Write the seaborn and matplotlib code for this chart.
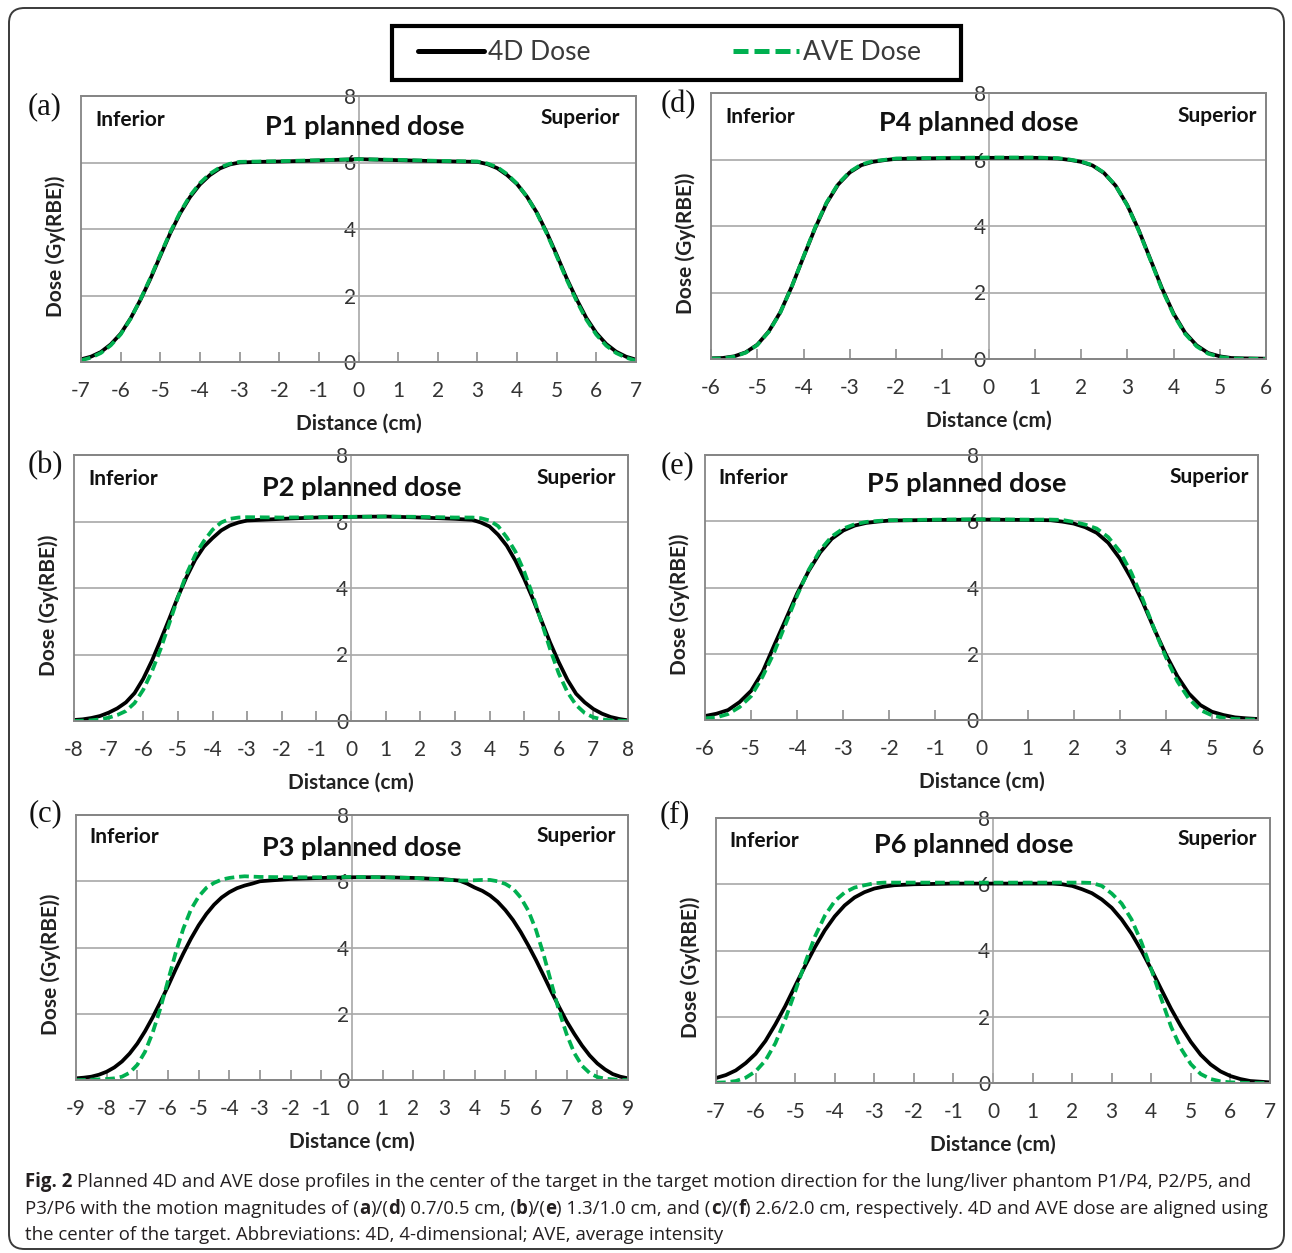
import matplotlib
matplotlib.use("Agg")
import matplotlib.pyplot as plt
import seaborn as sns
from matplotlib.patches import Rectangle, FancyBboxPatch
from matplotlib.lines import Line2D
from matplotlib import font_manager

# ---------------- data ----------------
p1_x = [-7, -6.75, -6.5, -6.25, -6, -5.75, -5.5, -5.25, -5, -4.75, -4.5, -4.25, -4, -3.75, -3.5, -3.25, -3, -2.5, -2, -1,
        0, 1, 2, 2.5, 3, 3.25, 3.5, 3.75, 4, 4.25, 4.5, 4.75, 5, 5.25, 5.5, 5.75, 6, 6.25, 6.5, 6.75, 7]
p1_4d = [0.08, 0.16, 0.3, 0.53, 0.85, 1.31, 1.87, 2.5, 3.19, 3.87, 4.47, 4.96, 5.34, 5.62, 5.82, 5.94, 6.0, 6.02, 6.03, 6.06,
         6.1, 6.07, 6.04, 6.03, 6.02, 5.95, 5.83, 5.62, 5.35, 4.97, 4.49, 3.89, 3.22, 2.52, 1.89, 1.32, 0.87, 0.54, 0.31, 0.16, 0.07]
p1_ave = [0.05, 0.13, 0.27, 0.5, 0.83, 1.3, 1.88, 2.53, 3.22, 3.9, 4.5, 5.0, 5.38, 5.66, 5.85, 5.96, 6.02, 6.03, 6.04, 6.07,
          6.1, 6.08, 6.05, 6.04, 6.03, 5.97, 5.86, 5.65, 5.36, 4.97, 4.47, 3.86, 3.18, 2.48, 1.84, 1.27, 0.82, 0.49, 0.27, 0.13, 0.04]

p2_x = [-8, -7.75, -7.5, -7.25, -7, -6.75, -6.5, -6.25, -6, -5.75, -5.5, -5.25, -5, -4.75, -4.5, -4.25, -4, -3.75, -3.5, -3.25,
        -3, -2, -1, 0, 1, 2, 3, 3.5, 3.75, 4, 4.25, 4.5, 4.75, 5, 5.25, 5.5, 5.75, 6, 6.25, 6.5, 6.75, 7, 7.25, 7.5, 7.75, 8]
p2_4d = [0.03, 0.05, 0.09, 0.15, 0.25, 0.38, 0.56, 0.84, 1.27, 1.81, 2.43, 3.07, 3.73, 4.33, 4.85, 5.24, 5.5, 5.73, 5.88, 5.97,
         6.03, 6.08, 6.12, 6.14, 6.15, 6.12, 6.08, 6.05, 5.97, 5.85, 5.6, 5.27, 4.82, 4.28, 3.68, 3.02, 2.36, 1.77, 1.24, 0.82,
         0.56, 0.36, 0.22, 0.12, 0.06, 0.02]
p2_ave = [0.0, 0.01, 0.02, 0.05, 0.1, 0.18, 0.3, 0.54, 0.94, 1.49, 2.16, 2.93, 3.71, 4.42, 4.99, 5.41, 5.75, 5.97, 6.08, 6.12,
          6.13, 6.12, 6.13, 6.14, 6.15, 6.14, 6.12, 6.12, 6.1, 6.03, 5.86, 5.52, 5.09, 4.5, 3.78, 2.98, 2.16, 1.43, 0.87, 0.48,
          0.24, 0.11, 0.05, 0.02, 0.01, 0.0]

p3_x = [-9, -8.75, -8.5, -8.25, -8, -7.75, -7.5, -7.25, -7, -6.75, -6.5, -6.25, -6, -5.75, -5.5, -5.25, -5, -4.75, -4.5, -4.25,
        -4, -3.75, -3.5, -3.25, -3, -2, -1, 0, 1, 2, 3, 3.5, 3.75, 4, 4.25, 4.5, 4.75, 5, 5.25, 5.5,
        5.75, 6, 6.25, 6.5, 6.75, 7, 7.25, 7.5, 7.75, 8, 8.25, 8.5, 8.75, 9]
p3_4d = [0.05, 0.07, 0.1, 0.16, 0.25, 0.38, 0.56, 0.8, 1.1, 1.47, 1.89, 2.35, 2.83, 3.34, 3.82, 4.27, 4.67, 5.01, 5.29, 5.51,
         5.67, 5.79, 5.87, 5.93, 6.0, 6.07, 6.1, 6.12, 6.12, 6.1, 6.06, 6.02, 5.93, 5.81, 5.71, 5.57, 5.38, 5.13, 4.83, 4.47,
         4.06, 3.62, 3.15, 2.67, 2.21, 1.77, 1.39, 1.04, 0.74, 0.5, 0.32, 0.18, 0.1, 0.05]
p3_ave = [0.0, 0.0, 0.01, 0.02, 0.03, 0.05, 0.1, 0.22, 0.46, 0.85, 1.43, 2.16, 3.0, 3.84, 4.57, 5.15, 5.54, 5.8, 5.95, 6.05,
          6.1, 6.13, 6.15, 6.14, 6.13, 6.12, 6.12, 6.13, 6.12, 6.1, 6.05, 6.02, 6.02, 6.03, 6.04, 6.04, 6.0, 5.92, 5.78, 5.51,
          5.11, 4.53, 3.78, 2.93, 2.09, 1.38, 0.81, 0.43, 0.21, 0.09, 0.04, 0.02, 0.0, 0.0]

p4_x = [-6, -5.75, -5.5, -5.25, -5, -4.75, -4.5, -4.25, -4, -3.75, -3.5, -3.25, -3, -2.75, -2.5, -2.25, -2, -1, 0, 1,
        1.5, 1.75, 2, 2.25, 2.5, 2.75, 3, 3.25, 3.5, 3.75, 4, 4.25, 4.5, 4.75, 5, 5.25, 5.5, 6]
p4_4d = [0.02, 0.03, 0.08, 0.2, 0.43, 0.83, 1.41, 2.19, 3.07, 3.93, 4.69, 5.25, 5.61, 5.83, 5.93, 5.98, 6.02, 6.04, 6.05, 6.05,
         6.03, 5.99, 5.93, 5.82, 5.59, 5.21, 4.63, 3.87, 3.0, 2.13, 1.37, 0.79, 0.41, 0.18, 0.08, 0.03, 0.02, 0.01]
p4_ave = [0.01, 0.02, 0.07, 0.19, 0.42, 0.82, 1.4, 2.19, 3.08, 3.95, 4.71, 5.27, 5.63, 5.85, 5.95, 5.99, 6.03, 6.05, 6.06, 6.06,
          6.04, 6.0, 5.94, 5.83, 5.6, 5.21, 4.62, 3.85, 2.98, 2.1, 1.34, 0.76, 0.38, 0.16, 0.06, 0.02, 0.01, 0.0]

p5_x = [-6, -5.75, -5.5, -5.25, -5, -4.75, -4.5, -4.25, -4, -3.75, -3.5, -3.25, -3, -2.75, -2.5, -2.25, -2, -1, 0, 1,
        1.5, 1.75, 2, 2.25, 2.5, 2.75, 3, 3.25, 3.5, 3.75, 4, 4.25, 4.5, 4.75, 5, 5.25, 5.5, 5.75, 6]
p5_4d = [0.12, 0.19, 0.3, 0.54, 0.88, 1.45, 2.25, 3.03, 3.82, 4.5, 5.06, 5.47, 5.72, 5.87, 5.95, 5.99, 6.02, 6.04, 6.05, 6.04,
         6.03, 5.99, 5.93, 5.82, 5.65, 5.35, 4.88, 4.27, 3.55, 2.74, 1.98, 1.32, 0.8, 0.45, 0.25, 0.15, 0.08, 0.05, 0.03]
p5_ave = [0.05, 0.08, 0.18, 0.39, 0.72, 1.31, 2.04, 2.9, 3.76, 4.53, 5.13, 5.54, 5.78, 5.91, 5.98, 6.01, 6.03, 6.05, 6.06, 6.05,
          6.05, 6.04, 5.98, 5.9, 5.78, 5.52, 5.09, 4.45, 3.64, 2.74, 1.9, 1.17, 0.64, 0.3, 0.14, 0.06, 0.03, 0.02, 0.01]

p6_x = [-7, -6.75, -6.5, -6.25, -6, -5.75, -5.5, -5.25, -5, -4.75, -4.5, -4.25, -4, -3.75, -3.5, -3.25, -3, -2.75, -2.5, -2,
        -1, 0, 1, 1.5, 1.75, 2, 2.25, 2.5, 2.75, 3, 3.25, 3.5, 3.75, 4, 4.25, 4.5, 4.75, 5, 5.25, 5.5,
        5.75, 6, 6.25, 6.5, 7]
p6_4d = [0.15, 0.24, 0.38, 0.6, 0.88, 1.27, 1.77, 2.32, 2.93, 3.53, 4.1, 4.61, 5.03, 5.36, 5.6, 5.76, 5.87, 5.93, 5.97, 6.0,
         6.02, 6.02, 6.02, 6.02, 6.0, 5.95, 5.85, 5.73, 5.54, 5.29, 4.94, 4.51, 4.0, 3.43, 2.83, 2.24, 1.71, 1.24, 0.85, 0.56,
         0.35, 0.21, 0.12, 0.06, 0.02]
p6_ave = [0.01, 0.02, 0.06, 0.16, 0.35, 0.68, 1.2, 1.92, 2.76, 3.62, 4.42, 5.05, 5.49, 5.75, 5.9, 5.97, 6.03, 6.05, 6.05, 6.05,
          6.05, 6.05, 6.05, 6.05, 6.05, 6.05, 6.05, 6.04, 5.95, 5.72, 5.42, 4.94, 4.25, 3.43, 2.55, 1.7, 1.04, 0.57, 0.27, 0.12,
          0.05, 0.02, 0.01, 0.0, 0.0]

panel_titles = ["P1 planned dose", "P2 planned dose", "P3 planned dose",
                "P4 planned dose", "P5 planned dose", "P6 planned dose"]
panel_letters = ["(a)", "(b)", "(c)", "(d)", "(e)", "(f)"]
x_ranges = [7, 8, 9, 6, 6, 7]
y_ticks = [0, 2, 4, 6, 8]
series_names = ["4D Dose", "AVE Dose"]

# ---------------- style ----------------
sns.set_theme(style="white")
plt.rcParams["font.family"] = ["Lato", "DejaVu Sans"]
plt.rcParams["axes.unicode_minus"] = False

W, H = 1292, 1253
fig = plt.figure(figsize=(W / 100, H / 100), dpi=100)
fig.patch.set_facecolor("white")

BLACK = "#000000"
GREEN = "#00b050"
FRAME = "#858585"
GRID = "#a8a8a8"
TXT = "#333333"

layouts = [
    dict(box=(81, 636, 96, 362), title=(0.512, 0.883), inf=(95, 120), sup=(620, 118), letter=(45, 107)),
    dict(box=(74, 628, 455, 721), title=(0.52, 0.876), inf=(88, 479), sup=(616, 478), letter=(45, 466)),
    dict(box=(76, 628, 815, 1080), title=(0.518, 0.875), inf=(89, 837), sup=(616, 836), letter=(45, 814)),
    dict(box=(711, 1266, 93, 359), title=(0.483, 0.887), inf=(725, 117), sup=(1257, 116), letter=(678, 105)),
    dict(box=(705, 1258, 455, 720), title=(0.474, 0.89), inf=(718, 478), sup=(1249, 477), letter=(677, 466)),
    dict(box=(716, 1270, 818, 1083), title=(0.466, 0.898), inf=(729, 841), sup=(1257, 839), letter=(675, 815)),
]
data = [(p1_x, p1_4d, p1_ave), (p2_x, p2_4d, p2_ave), (p3_x, p3_4d, p3_ave),
        (p4_x, p4_4d, p4_ave), (p5_x, p5_4d, p5_ave), (p6_x, p6_4d, p6_ave)]

LW = 2.7
DASH = (0, (2.6, 1.3))

for i in range(6):
    lay = layouts[i]
    l, r, t, b = lay["box"]
    ax = fig.add_axes([l / W, 1 - b / H, (r - l) / W, (b - t) / H])
    xs, y4d, yave = data[i]
    R = x_ranges[i]

    for yv in (2, 4, 6):
        ax.axhline(yv, color=GRID, lw=1.2, zorder=1)

    sns.lineplot(x=xs, y=y4d, ax=ax, color=BLACK, linewidth=LW, estimator=None, sort=False, zorder=4)
    sns.lineplot(x=xs, y=yave, ax=ax, color=GREEN, linewidth=LW, estimator=None, sort=False, zorder=5)
    ax.lines[-1].set_linestyle(DASH)

    ax.set_xlim(-R, R)
    ax.set_ylim(0, 8)
    ax.set_xticks(list(range(-R, R + 1)))
    ax.set_yticks(y_ticks)
    ax.set_xlabel("Distance (cm)", fontsize=15, fontweight="bold", color="#222222", labelpad=9)
    ax.set_ylabel("Dose (Gy(RBE))", fontsize=15, fontweight="bold", color="#222222")
    ax.yaxis.set_label_coords(-15 / (r - l), 0.5 - 17 / (b - t))

    for s in ("top", "right", "bottom"):
        ax.spines[s].set_color(FRAME)
        ax.spines[s].set_linewidth(1.3)
    ax.spines["left"].set_position(("data", 0))
    ax.spines["left"].set_color(GRID)
    ax.spines["left"].set_linewidth(1.2)
    ax.spines["left"].set_zorder(1)
    ax.add_patch(Rectangle((0, 0), 1, 1, transform=ax.transAxes, fill=False,
                           ec=FRAME, lw=1.3, clip_on=False, zorder=6))

    ax.tick_params(axis="x", direction="in", length=7, width=1.1, color=FRAME,
                   pad=14, labelsize=15, labelcolor=TXT, bottom=True, top=False)
    ax.tick_params(axis="y", length=0, pad=2, labelsize=15, labelcolor=TXT, left=True)

    ax.text(lay["title"][0], lay["title"][1], panel_titles[i], transform=ax.transAxes,
            ha="center", va="center", fontsize=19.5, fontweight="bold", color="#111111", zorder=7)
    ix, iy = lay["inf"]
    ax.text((ix - l) / (r - l), (b - iy) / (b - t), "Inferior", transform=ax.transAxes,
            ha="left", va="center", fontsize=15, fontweight="bold", color="#111111")
    sx, sy = lay["sup"]
    ax.text((sx - l) / (r - l), (b - sy) / (b - t), "Superior", transform=ax.transAxes,
            ha="right", va="center", fontsize=15, fontweight="bold", color="#111111")
    lx, ly = lay["letter"]
    fig.text(lx / W, 1 - ly / H, panel_letters[i], ha="center", va="center",
             fontsize=22, family=["Liberation Serif", "DejaVu Serif"], color="#111111")

# ---------------- legend ----------------
fig.patches.append(Rectangle((392 / W, 1 - 80 / H), 569 / W, 54 / H, transform=fig.transFigure,
                             fill=False, ec="black", lw=3))
h1 = Line2D([], [], color=BLACK, lw=3.6)
h2 = Line2D([], [], color=GREEN, lw=3.6, linestyle=(0, (3.0, 1.2)))
leg = fig.legend([h1, h2], series_names, loc="center left",
                 bbox_to_anchor=(418 / W, 1 - 52.5 / H), ncol=2, frameon=False, fontsize=19,
                 handlelength=2.5, handletextpad=0.15, columnspacing=5.4, borderpad=0, borderaxespad=0)
for t in leg.get_texts():
    t.set_color("#3a3a3a")

# ---------------- outer rounded border ----------------
fig.patches.append(FancyBboxPatch((9 / W, 4 / H), 1275 / W, 1241 / H,
                                  boxstyle="round,pad=0,rounding_size=0.012",
                                  transform=fig.transFigure, fill=False, ec="#3a3a3a", lw=1.4))

# ---------------- caption ----------------
cap_lines = [
    [("Fig. 2", True), (" Planned 4D and AVE dose profiles in the center of the target in the target motion direction for the lung/liver phantom P1/P4, P2/P5, and", False)],
    [("P3/P6 with the motion magnitudes of (", False), ("a", True), (")/(", False), ("d", True),
     (") 0.7/0.5 cm, (", False), ("b", True), (")/(", False), ("e", True), (") 1.3/1.0 cm, and (", False),
     ("c", True), (")/(", False), ("f", True), (") 2.6/2.0 cm, respectively. 4D and AVE dose are aligned using", False)],
    [("the center of the target. Abbreviations: 4D, 4-dimensional; AVE, average intensity", False)],
]

cap_family = ["Open Sans", "DejaVu Sans"]
for cand in ["Liberation Sans Narrow"]:
    try:
        font_manager.findfont(font_manager.FontProperties(family=cand), fallback_to_default=False)
        cap_family = [cand, "Open Sans", "DejaVu Sans"]
        break
    except Exception:
        pass

renderer = fig.canvas.get_renderer()


def draw_line(segs, yb, fs, draw=True):
    x = 25.0
    items = []
    for txt, bold in segs:
        tt = fig.text(x / W, 1 - yb / H, txt, fontsize=fs, fontweight="bold" if bold else "normal",
                      family=cap_family, ha="left", va="baseline", color="#231f20")
        bb = tt.get_window_extent(renderer)
        x = bb.x1
        items.append(tt)
    if not draw:
        for tt in items:
            tt.remove()
    return x


fits = []
for segs, target in zip(cap_lines[:2], [1262, 1266]):
    end = draw_line(segs, 1187, 12, draw=False)
    fits.append(12 * (target - 25) / (end - 25))
fs = min(fits)
for segs, yb in zip(cap_lines, [1187, 1214, 1240]):
    draw_line(segs, yb, fs)

fig.savefig("out.png", dpi=100, facecolor="white")
